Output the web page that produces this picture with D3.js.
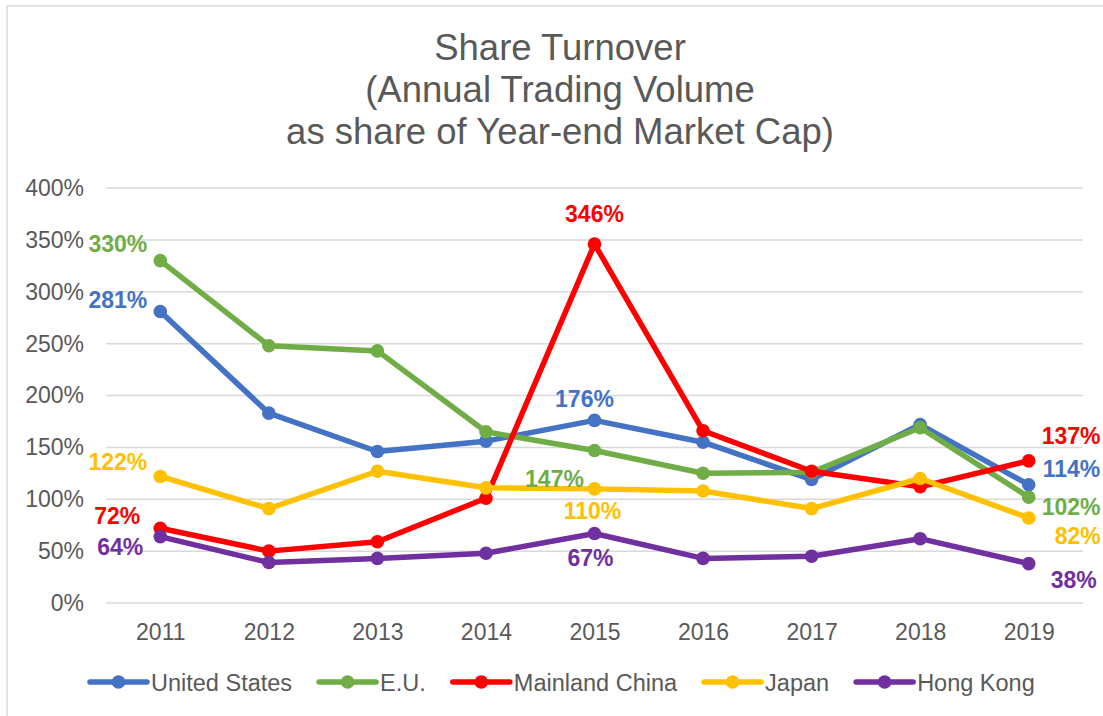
<!DOCTYPE html>
<html>
<head>
<meta charset="utf-8">
<script src="https://d3js.org/d3.v7.min.js"></script>
<style>
  body { margin: 0; background: #fff; }
  svg { display: block; font-family: "Liberation Sans", Arial, sans-serif; }
</style>
</head>
<body>
<script>
const years = ['2011', '2012', '2013', '2014', '2015', '2016', '2017', '2018', '2019'];
const yTicks = [0, 50, 100, 150, 200, 250, 300, 350, 400];
const titleLines = ['Share Turnover', '(Annual Trading Volume', 'as share of Year-end Market Cap)'];

const seriesNames = ['United States', 'E.U.', 'Mainland China', 'Japan', 'Hong Kong'];
const seriesColors = ['#4472C4', '#70AD47', '#FF0000', '#FFC000', '#7030A0'];

const unitedStates = [281, 183, 146, 156, 176, 155, 119, 172, 114];
const eu = [330, 248, 243, 165, 147, 125, 126, 169, 102];
const mainlandChina = [72, 50, 59, 101, 346, 166, 127, 112, 137];
const japan = [122, 91, 127, 111, 110, 108, 91, 120, 82];
const hongKong = [64, 39, 43, 48, 67, 43, 45, 62, 38];

const seriesValues = [unitedStates, eu, mainlandChina, japan, hongKong];

// data labels: series index, year index, text
const labels = [
  [1, 0, '330%'], [0, 0, '281%'], [3, 0, '122%'], [2, 0, '72%'], [4, 0, '64%'],
  [2, 4, '346%'], [0, 4, '176%'], [1, 4, '147%'], [3, 4, '110%'], [4, 4, '67%'],
  [2, 8, '137%'], [0, 8, '114%'], [1, 8, '102%'], [3, 8, '82%'], [4, 8, '38%']
];
// placement of each label relative to its point: anchor, dx, dy (baseline)
const labelPlacement = [
  ['end', -13, -9], ['end', -13, -3], ['end', -13, -6], ['end', -20, -4], ['end', -17, 18],
  ['middle', 0, -22], ['middle', -10, -13], ['middle', -40, 37], ['middle', -2, 30], ['middle', -4, 33],
  ['start', 13, -17], ['start', 14, -8], ['start', 13, 18], ['start', 26, 26], ['start', 22, 24]
];

const width = 1103, height = 716;
const textColor = '#595959';
const fontStack = '"Liberation Sans", Arial, sans-serif';

const svg = d3.select('body').append('svg')
  .attr('width', width)
  .attr('height', height);

svg.append('rect')
  .attr('x', 7).attr('y', 6)
  .attr('width', width + 20).attr('height', height + 20)
  .attr('fill', '#fff')
  .attr('stroke', '#d9d9d9')
  .attr('stroke-width', 1.5);

// title
svg.append('g').selectAll('text')
  .data(titleLines)
  .join('text')
  .attr('x', 560)
  .attr('y', (d, i) => 60 + i * 42)
  .attr('text-anchor', 'middle')
  .attr('font-size', 36.5)
  .attr('fill', textColor)
  .text(d => d);

const x = d3.scalePoint().domain(years).range([106, 1083]).padding(0.5);
const y = d3.scaleLinear().domain([0, 400]).range([603, 188]);

// gridlines
svg.append('g').selectAll('line')
  .data(yTicks)
  .join('line')
  .attr('x1', 106).attr('x2', 1083)
  .attr('y1', d => y(d)).attr('y2', d => y(d))
  .attr('stroke', '#d9d9d9')
  .attr('stroke-width', 1.5);

// y axis
const yAxis = svg.append('g')
  .attr('transform', 'translate(84,0)')
  .call(d3.axisLeft(y).tickValues(yTicks).tickSize(0).tickPadding(0).tickFormat(d => d + '%'));
yAxis.select('.domain').remove();
yAxis.selectAll('text')
  .attr('font-size', 23)
  .attr('font-family', fontStack)
  .attr('fill', textColor);

// x axis
const xAxis = svg.append('g')
  .attr('transform', 'translate(0,603)')
  .call(d3.axisBottom(x).tickSize(0).tickPadding(0));
xAxis.select('.domain').remove();
xAxis.selectAll('text')
  .attr('font-size', 23)
  .attr('font-family', fontStack)
  .attr('fill', textColor)
  .attr('dy', null)
  .attr('y', 37);

// series
const line = d3.line().x((d, i) => x(years[i])).y(d => y(d));

seriesValues.forEach((vals, s) => {
  const g = svg.append('g');
  g.append('path')
    .datum(vals)
    .attr('d', line)
    .attr('fill', 'none')
    .attr('stroke', seriesColors[s])
    .attr('stroke-width', 5.5)
    .attr('stroke-linejoin', 'round');
  g.selectAll('circle')
    .data(vals)
    .join('circle')
    .attr('cx', (d, i) => x(years[i]))
    .attr('cy', d => y(d))
    .attr('r', 6.8)
    .attr('fill', seriesColors[s]);
});

// data labels
svg.append('g').selectAll('text')
  .data(labels)
  .join('text')
  .attr('x', (d, i) => x(years[d[1]]) + labelPlacement[i][1])
  .attr('y', (d, i) => y(seriesValues[d[0]][d[1]]) + labelPlacement[i][2])
  .attr('text-anchor', (d, i) => labelPlacement[i][0])
  .attr('font-size', 23)
  .attr('font-weight', 'bold')
  .attr('fill', d => seriesColors[d[0]])
  .text(d => d[2]);

// legend
const legend = svg.append('g').attr('transform', 'translate(0,682)');
let lx = 90;
seriesNames.forEach((name, s) => {
  const item = legend.append('g').attr('transform', `translate(${lx},0)`);
  item.append('line')
    .attr('x1', 0).attr('x2', 57)
    .attr('stroke', seriesColors[s])
    .attr('stroke-width', 5.5)
    .attr('stroke-linecap', 'round');
  item.append('circle')
    .attr('cx', 28.5).attr('r', 6.8)
    .attr('fill', seriesColors[s]);
  const t = item.append('text')
    .attr('x', 61)
    .attr('y', 9)
    .attr('font-size', 23.5)
    .attr('fill', textColor)
    .text(name);
  lx += 61 + t.node().getComputedTextLength() + 27;
});
</script>
</body>
</html>
